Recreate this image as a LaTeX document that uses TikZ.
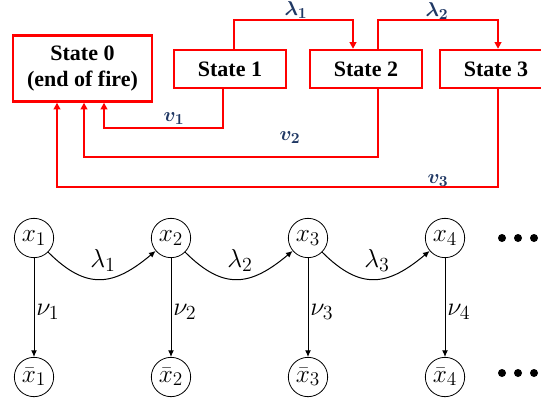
\RequirePackage{fix-cm}
\documentclass[tikz,border=0pt]{standalone}
\usepackage{amsmath}
\usepackage{fontspec}
\setmainfont{Liberation Serif}
\usetikzlibrary{arrows.meta}
\DeclareMathSizes{19}{19}{14.5}{11}
\DeclareMathSizes{19.5}{19.5}{15}{11}
\DeclareMathSizes{15}{15}{11.5}{9}
\definecolor{navy}{HTML}{203864}
\definecolor{fire}{HTML}{FF0000}
\begin{document}
\begin{tikzpicture}[x=0.75pt,y=-0.75pt,
  statebox/.style={draw=fire,line width=1.8pt,font=\fontsize{16.5}{19}\selectfont\bfseries,align=center,inner sep=0pt},
  redline/.style={draw=fire,line width=1.5pt},
  redarrow/.style={redline,-{Triangle[length=5pt,width=5pt]}},
  toplabel/.style={text=navy,inner sep=0pt,font=\fontsize{15}{17}\selectfont},
  circ/.style={draw,circle,minimum size=29.5pt,inner sep=0pt,line width=0.6pt,font=\fontsize{19}{21}\selectfont},
  blackarrow/.style={line width=0.75pt,-{Latex[length=5pt,width=4.5pt]}},
  mlabel/.style={inner sep=0pt,font=\fontsize{19.5}{22}\selectfont},
  dot/.style={circle,fill,minimum size=6pt,inner sep=0pt}
]
\useasboundingbox (0,0) rectangle (541,400);
\clip (0,0) rectangle (541,400);
% state boxes
\node[statebox,minimum width=104pt,minimum height=49.5pt] (s0) at (82.5,68.5) {State 0\\(end of fire)};
\node[statebox,minimum width=84pt,minimum height=28.5pt] (s1) at (230,69) {State 1};
\node[statebox,minimum width=84pt,minimum height=28.5pt] (s2) at (366,69) {State 2};
\node[statebox,minimum width=84pt,minimum height=28.5pt] (s3) at (496,69) {State 3};
% lambda connectors
\coordinate (la) at (234,20); \coordinate (lb) at (353,20);
\draw[redarrow] (s1.north -| la) -- (la) -- (lb) -- (s2.north -| lb);
\coordinate (lc) at (378,20); \coordinate (ld) at (498,20);
\draw[redarrow] (s2.north -| lc) -- (lc) -- (ld) -- (s3.north -| ld);
% nu connectors
\coordinate (va) at (223,128); \coordinate (vb) at (104,128);
\draw[redarrow] (s1.south -| va) -- (va) -- (vb) -- (s0.south -| vb);
\coordinate (vc) at (378,157); \coordinate (vd) at (84,157);
\draw[redarrow] (s2.south -| vc) -- (vc) -- (vd) -- (s0.south -| vd);
\coordinate (ve) at (498,187); \coordinate (vf) at (57,187);
\draw[redarrow] (s3.south -| ve) -- (ve) -- (vf) -- (s0.south -| vf);
% top labels
\node[toplabel] (tl1) at (296,10) {$\boldsymbol{\lambda_1}$};
\node[toplabel] (tl2) at (437,11) {$\boldsymbol{\lambda_2}$};
\node[toplabel] (tv1) at (174,119) {$\boldsymbol{v_1}$};
\node[toplabel] (tv2) at (290,138) {$\boldsymbol{v_2}$};
\node[toplabel] (tv3) at (438,181) {$\boldsymbol{v_3}$};
% bottom chain
\node[circ] (x1) at (34,238) {$x_1$};
\node[circ] (x2) at (171,238) {$x_2$};
\node[circ] (x3) at (308,238) {$x_3$};
\node[circ] (x4) at (445,238) {$x_4$};
\node[circ] (y1) at (34,377) {$\bar{x}_1$};
\node[circ] (y2) at (171,377) {$\bar{x}_2$};
\node[circ] (y3) at (308,377) {$\bar{x}_3$};
\node[circ] (y4) at (445,377) {$\bar{x}_4$};
\foreach \i in {1,2,3,4}{\draw[blackarrow] (x\i) -- (y\i);}
\draw[blackarrow] (x1) to[out=-45,in=-140,looseness=1.3] (x2);
\draw[blackarrow] (x2) to[out=-45,in=-140,looseness=1.3] (x3);
\draw[blackarrow] (x3) to[out=-45,in=-140,looseness=1.3] (x4);
\node[mlabel] (l1) at (103,260) {$\lambda_1$};
\node[mlabel] (l2) at (240,260) {$\lambda_2$};
\node[mlabel] (l3) at (377,260) {$\lambda_3$};
\node[mlabel,anchor=west] (n1) at (36,312) {$\nu_1$};
\node[mlabel,anchor=west] (n2) at (173,312) {$\nu_2$};
\node[mlabel,anchor=west] (n3) at (310,312) {$\nu_3$};
\node[mlabel,anchor=west] (n4) at (447,312) {$\nu_4$};
% dots
\node[dot] (d1) at (502,238) {}; \node[dot] (d2) at (518,238) {}; \node[dot] (d3) at (534,238) {};
\node[dot] (d4) at (502,373) {}; \node[dot] (d5) at (518,373) {}; \node[dot] (d6) at (534,373) {};
\end{tikzpicture}
\end{document}
